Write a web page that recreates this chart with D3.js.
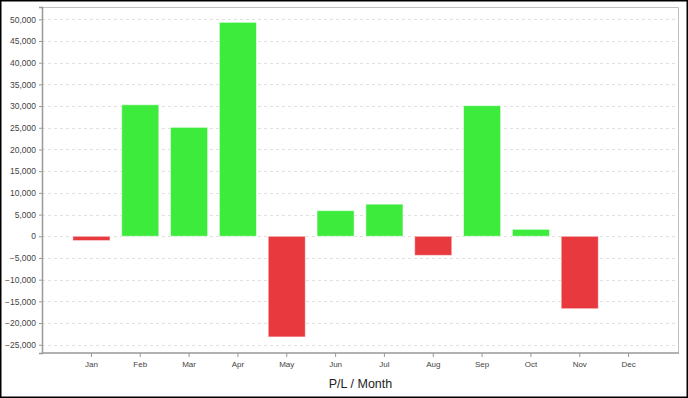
<!DOCTYPE html>
<html>
<head>
<meta charset="utf-8">
<script src="https://cdn.jsdelivr.net/npm/d3@7"></script>
<style>
  html, body { margin: 0; padding: 0; background: #fff; }
  svg text { font-family: "Liberation Sans", Arial, sans-serif; }
</style>
</head>
<body>
<div id="chart"></div>
<script>
// Monthly profit / loss
const months = ["Jan", "Feb", "Mar", "Apr", "May", "Jun", "Jul", "Aug", "Sep", "Oct", "Nov", "Dec"];
const pl = [-1000, 30300, 25100, 49300, -23200, 5900, 7400, -4400, 30100, 1600, -16700, 0];
const yTicks = [-25000, -20000, -15000, -10000, -5000, 0, 5000, 10000, 15000, 20000, 25000, 30000, 35000, 40000, 45000, 50000];
const chartTitle = "P/L / Month";

const width = 688, height = 398;
const margin = { top: 7, right: 9, bottom: 45, left: 42 };
const innerW = width - margin.left - margin.right;
const innerH = height - margin.top - margin.bottom;

const svg = d3.select("#chart").append("svg")
    .attr("width", width)
    .attr("height", height);

// outer black frame
svg.append("rect")
    .attr("x", 0.75).attr("y", 0.75)
    .attr("width", width - 1.5).attr("height", height - 1.5)
    .attr("fill", "none")
    .attr("stroke", "#000")
    .attr("stroke-width", 1.5);

const g = svg.append("g")
    .attr("transform", `translate(${margin.left},${margin.top})`);

const x = d3.scaleBand()
    .domain(months)
    .range([25, innerW - 26])
    .paddingInner(0.24)
    .paddingOuter(0.12);

const y = d3.scaleLinear()
    .domain([-26900, 52830])
    .range([innerH, 0]);

// dashed grid
g.append("g")
    .selectAll("line")
    .data(yTicks)
    .join("line")
    .attr("x1", 0).attr("x2", innerW)
    .attr("y1", d => Math.round(y(d)) + 0.5)
    .attr("y2", d => Math.round(y(d)) + 0.5)
    .attr("stroke", "#e0e0e0")
    .attr("stroke-dasharray", "3,3");

// top and right frame
g.append("path")
    .attr("d", `M0,0.5H${innerW - 0.5}V${innerH}`)
    .attr("fill", "none")
    .attr("stroke", "#c0c0c0");

// bars
g.append("g")
    .selectAll("rect")
    .data(months.map((m, i) => ({ month: m, value: pl[i] })))
    .join("rect")
    .attr("x", d => x(d.month))
    .attr("width", x.bandwidth())
    .attr("y", d => y(Math.max(0, d.value)))
    .attr("height", d => Math.abs(y(d.value) - y(0)))
    .attr("fill", d => d.value >= 0 ? "#3deb3d" : "#e8393f")
    .attr("stroke", "rgba(255,255,255,0.55)")
    .attr("stroke-width", 1);

// y axis
const yAxis = g.append("g")
    .call(d3.axisLeft(y).tickValues(yTicks).tickSize(3).tickPadding(3)
        .tickFormat(d3.format(",")));
yAxis.select(".domain").attr("stroke", "#999").attr("stroke-width", 1.5);
yAxis.selectAll(".tick line").attr("stroke", "#999");
yAxis.selectAll("text").attr("font-size", 8.5).attr("fill", "#444");

// x axis
const xAxis = g.append("g")
    .attr("transform", `translate(0,${innerH})`)
    .call(d3.axisBottom(x).tickSize(4).tickPadding(4).tickSizeOuter(0));
xAxis.select(".domain").attr("d", `M0,0H${innerW}`)
    .attr("stroke", "#999").attr("stroke-width", 1.5);
xAxis.selectAll(".tick line").attr("stroke", "#999");
xAxis.selectAll("text").attr("font-size", 8).attr("fill", "#444");

// title
svg.append("text")
    .attr("x", margin.left + innerW / 2)
    .attr("y", 388)
    .attr("text-anchor", "middle")
    .attr("font-size", 12.5)
    .attr("fill", "#222")
    .text(chartTitle);
</script>
</body>
</html>
